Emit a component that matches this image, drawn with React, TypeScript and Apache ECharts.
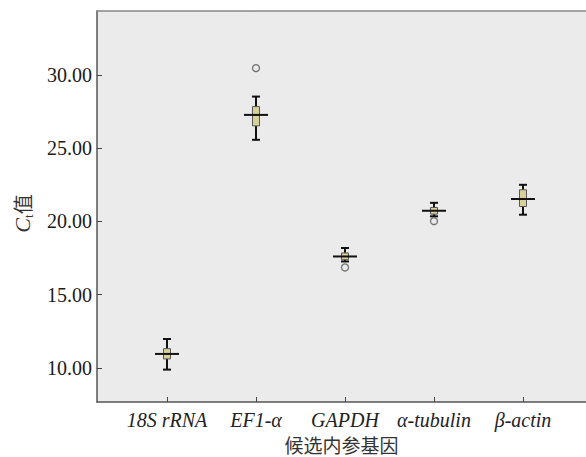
import React, { useEffect, useRef } from "react";
import * as echarts from "echarts";

const categories = ["18S rRNA", "EF1-α", "GAPDH", "α-tubulin", "β-actin"];
const whiskerLow = [9.89, 25.57, 17.27, 20.35, 20.46];
const q1 = [10.62, 26.52, 17.39, 20.5, 21.02];
const median = [10.96, 27.27, 17.61, 20.73, 21.53];
const q3 = [11.32, 27.84, 17.85, 20.95, 22.16];
const whiskerHigh = [11.98, 28.52, 18.19, 21.27, 22.5];
const outlierCategory = [2, 3, 4];
const outlierValue = [30.46, 16.86, 20.02];
const yTicks = [10, 15, 20, 25, 30];

export default function App() {
  const ref = useRef<HTMLDivElement>(null);
  useEffect(() => {
    const chart = echarts.init(ref.current!, null, { renderer: "svg" });
    const boxData = categories.map((_, i) => [
      i + 1,
      whiskerLow[i],
      q1[i],
      median[i],
      q3[i],
      whiskerHigh[i],
    ]);
    const outData = outlierCategory.map((c, i) => [c, outlierValue[i]]);
    const xIdx = [1, 2, 3, 4, 5];
    chart.setOption({
      animation: false,
      backgroundColor: "#ffffff",
      grid: {
        left: 97,
        top: 11,
        right: 0,
        bottom: 55,
        containLabel: false,
        outerBoundsMode: "none",
        show: true,
        backgroundColor: "#ebebeb",
        borderWidth: 0,
      },
      xAxis: [
        {
          type: "value",
          min: 0.2135,
          max: 5.708,
          splitLine: { show: false },
          axisLine: { show: true, onZero: false, lineStyle: { color: "#555", width: 1.5 } },
          axisTick: { show: true, inside: true, length: 5, customValues: xIdx, lineStyle: { color: "#444", width: 1 } },
          axisLabel: {
            customValues: xIdx,
            formatter: (v: number) => categories[Math.round(v) - 1] ?? "",
            fontFamily: "Liberation Serif",
            fontStyle: "italic",
            fontSize: 20,
            color: "#222",
            margin: 8,
          },
          name: "候选内参基因",
          nameLocation: "middle",
          nameGap: 31,
          nameTextStyle: { fontFamily: "Noto Sans CJK SC", fontSize: 19, lineHeight: 19, color: "#333" },
        },
        {
          type: "value",
          position: "top",
          min: 0.2135,
          max: 5.708,
          splitLine: { show: false },
          axisLine: { show: true, onZero: false, lineStyle: { color: "#888", width: 1.5 } },
          axisTick: { show: false },
          axisLabel: { show: false },
        },
      ],
      yAxis: {
        type: "value",
        min: 7.68,
        max: 34.36,
        splitLine: { show: false },
        axisLine: { show: true, onZero: false, lineStyle: { color: "#555", width: 1.5 } },
        axisTick: { show: true, inside: true, length: 5, customValues: yTicks, lineStyle: { color: "#444", width: 1 } },
        axisLabel: {
          customValues: yTicks,
          formatter: (v: number) => v.toFixed(2),
          fontFamily: "Liberation Serif",
          fontSize: 20,
          color: "#1a1a1a",
          margin: 5,
        },
        name: "{c|C}{s|t}{z|值}",
        nameLocation: "middle",
        nameGap: 62,
        nameTextStyle: {
          padding: [0, 14, 0, 0],
          rich: {
            c: { fontFamily: "Liberation Serif", fontStyle: "italic", fontSize: 22, color: "#333", lineHeight: 26, verticalAlign: "middle" },
            s: { fontFamily: "Liberation Serif", fontSize: 13, color: "#333", lineHeight: 12, verticalAlign: "bottom" },
            z: { fontFamily: "Noto Sans CJK SC", fontSize: 20, color: "#333", lineHeight: 26, verticalAlign: "middle" },
          },
        },
      },
      series: [
        {
          type: "custom",
          data: boxData,
          encode: { x: 0, y: [1, 2, 3, 4, 5] },
          renderItem: (_params: any, api: any) => {
            const x = api.value(0);
            const lo = api.coord([x, api.value(1)]);
            const b1 = api.coord([x, api.value(2)]);
            const md = api.coord([x, api.value(3)]);
            const b3 = api.coord([x, api.value(4)]);
            const hi = api.coord([x, api.value(5)]);
            const cx = lo[0];
            const bw = 7;
            const cap = 8;
            const mw = 24;
            const ws = { stroke: "#111", lineWidth: 2 };
            return {
              type: "group",
              children: [
                { type: "line", shape: { x1: cx, y1: hi[1], x2: cx, y2: b3[1] }, style: ws },
                { type: "line", shape: { x1: cx, y1: b1[1], x2: cx, y2: lo[1] }, style: ws },
                { type: "line", shape: { x1: cx - cap / 2, y1: hi[1], x2: cx + cap / 2, y2: hi[1] }, style: ws },
                { type: "line", shape: { x1: cx - cap / 2, y1: lo[1], x2: cx + cap / 2, y2: lo[1] }, style: ws },
                {
                  type: "rect",
                  shape: { x: cx - bw / 2, y: b3[1], width: bw, height: b1[1] - b3[1] },
                  style: { fill: "#d8d29a", stroke: "#555", lineWidth: 1 },
                },
                { type: "line", shape: { x1: cx - mw / 2, y1: md[1], x2: cx + mw / 2, y2: md[1] }, style: ws },
              ],
            };
          },
        },
        {
          type: "scatter",
          data: outData,
          symbol: "circle",
          symbolSize: 7,
          itemStyle: { color: "#ebebeb", borderColor: "#555", borderWidth: 1.3 },
        },
      ],
    });
    return () => chart.dispose();
  }, []);
  return (
    <div
      ref={ref}
      style={{ position: "absolute", left: 0, top: 0, width: 586, height: 457 }}
    />
  );
}
